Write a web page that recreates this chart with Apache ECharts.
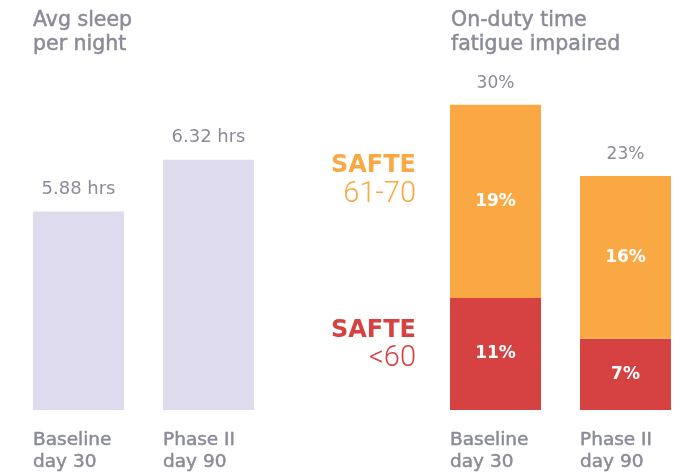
<!DOCTYPE html>
<html><head><meta charset="utf-8">
<script src="https://cdn.jsdelivr.net/npm/echarts@6/dist/echarts.min.js"></script>
<style>html,body{margin:0;padding:0;background:#fff}#c{width:687px;height:473px}</style>
</head><body><div id="c"></div>
<script>
const categories = ['Baseline\nday 30', 'Phase II\nday 90'];
const sleepHours = [5.88, 6.32];
const safteUnder60 = [11, 7];
const safte6170 = [19, 16];
const fatigueTotal = [30, 23];

const GRAY = '#8a8b97';
const FONT = '"DejaVu Sans", sans-serif';
const LIGHT = 'Roboto, sans-serif';
const chart = echarts.init(document.getElementById('c'));

function catLabel() {
  const st = { align: 'left', width: 91, color: GRAY, fontFamily: FONT, fontSize: 18.5, lineHeight: 22,
    textBorderColor: GRAY, textBorderWidth: 0.5 };
  return {
    color: GRAY, fontFamily: FONT, fontSize: 18.5, lineHeight: 22, margin: 19,
    align: 'center', verticalAlign: 'top', interval: 0,
    formatter: v => v.split('\n').map(s => '{a|' + s + '}').join('\n'),
    rich: { a: st }
  };
}
const titleStyle = { color: GRAY, fontSize: 20.5, fontWeight: 'normal', lineHeight: 24, fontFamily: FONT,
  textBorderColor: GRAY, textBorderWidth: 0.5 };

chart.setOption({
  animation: false,
  textStyle: { fontFamily: FONT },
  title: [
    { text: 'Avg sleep\nper night', left: 33, top: 9, padding: 0, textStyle: titleStyle },
    { text: 'On-duty time\nfatigue impaired', left: 451, top: 9, padding: 0, textStyle: titleStyle }
  ],
  grid: [
    { left: 78.5, width: 130, top: 21, bottom: 62 },
    { left: 495.5, width: 130, top: 3, bottom: 62 }
  ],
  xAxis: [
    { type: 'category', gridIndex: 0, data: categories, boundaryGap: false, axisLine: { show: false }, axisTick: { show: false }, axisLabel: catLabel() },
    { type: 'category', gridIndex: 1, data: categories, boundaryGap: false, axisLine: { show: false }, axisTick: { show: false }, axisLabel: catLabel() }
  ],
  yAxis: [
    { type: 'value', gridIndex: 0, min: 4.19, max: 7.5, show: false, splitLine: { show: false } },
    { type: 'value', gridIndex: 1, min: 0, max: 40, show: false, splitLine: { show: false } }
  ],
  graphic: [
    { type: 'text', x: 416, y: 166, style: { text: 'SAFTE', fill: '#f9a843', font: 'bold 24px ' + FONT, textAlign: 'right', textVerticalAlign: 'middle' } },
    { type: 'text', x: 416, y: 195, style: { text: '61-70', fill: '#f9a843', font: '300 29px ' + LIGHT, textAlign: 'right', textVerticalAlign: 'middle' } },
    { type: 'text', x: 416, y: 331, style: { text: 'SAFTE', fill: '#d64141', font: 'bold 24px ' + FONT, textAlign: 'right', textVerticalAlign: 'middle' } },
    { type: 'text', x: 416, y: 359, style: { text: '<60', fill: '#d64141', font: '300 29px ' + LIGHT, textAlign: 'right', textVerticalAlign: 'middle' } }
  ],
  series: [
    { type: 'bar', xAxisIndex: 0, yAxisIndex: 0, data: sleepHours, barWidth: 91,
      itemStyle: { color: '#dddbed' },
      label: { show: true, position: 'top', distance: 13, color: GRAY, fontSize: 18, fontFamily: FONT,
        formatter: p => p.value.toFixed(2) + ' hrs' } },
    { type: 'bar', xAxisIndex: 1, yAxisIndex: 1, data: safteUnder60, stack: 'f', barWidth: 91,
      itemStyle: { color: '#d64141' },
      label: { show: true, position: 'inside', color: '#fff', fontSize: 17, fontWeight: 'bold', fontFamily: FONT, formatter: '{c}%' } },
    { type: 'bar', xAxisIndex: 1, yAxisIndex: 1, data: safte6170, stack: 'f', barWidth: 91,
      itemStyle: { color: '#f9a843' },
      label: { show: true, position: 'inside', color: '#fff', fontSize: 17, fontWeight: 'bold', fontFamily: FONT, formatter: '{c}%' } },
    { type: 'bar', xAxisIndex: 1, yAxisIndex: 1, data: fatigueTotal, barWidth: 91, barGap: '-100%', z: 1,
      itemStyle: { color: 'rgba(0,0,0,0)' },
      label: { show: true, position: 'top', distance: 13, color: GRAY, fontSize: 17, fontFamily: FONT, formatter: '{c}%' } }
  ]
});
</script></body></html>
